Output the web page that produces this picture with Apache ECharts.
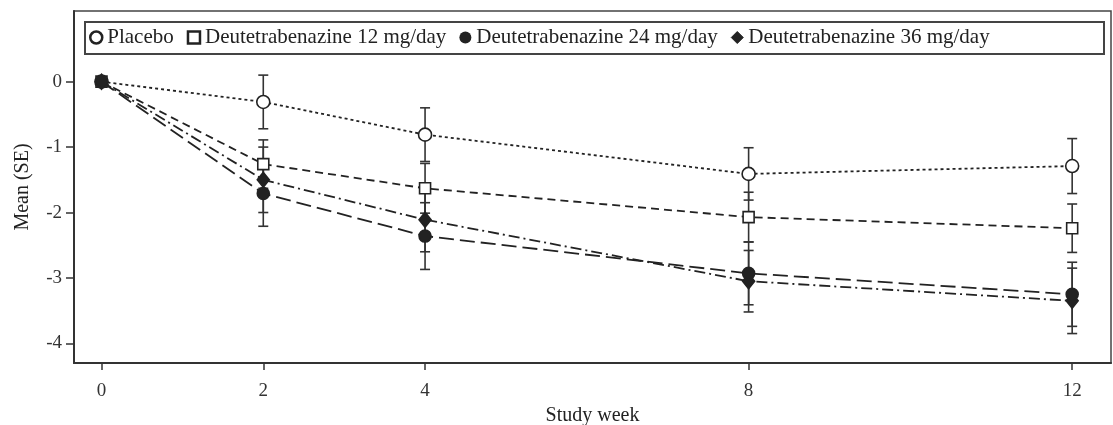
<!DOCTYPE html>
<html>
<head>
<meta charset="utf-8">
<script src="https://cdn.jsdelivr.net/npm/echarts@6/dist/echarts.min.js"></script>
<style>
html,body{margin:0;padding:0;background:#fff;}
#chart{width:1113px;height:425px;}
</style>
</head>
<body>
<div id="chart"></div>
<script>
// ---- data ----
const weeks = [0, 2, 4, 8, 12];
const xTicks = [0, 2, 4, 8, 12];
const yTicks = [0, -1, -2, -3, -4];
const seriesNames = ['Placebo', 'Deutetrabenazine 12 mg/day', 'Deutetrabenazine 24 mg/day', 'Deutetrabenazine 36 mg/day'];
const placeboMean = [0, -0.31, -0.81, -1.41, -1.29];
const placeboSE   = [0, 0.41, 0.41, 0.40, 0.42];
const dtbz12Mean  = [0, -1.26, -1.63, -2.07, -2.24];
const dtbz12SE    = [0, 0.37, 0.38, 0.38, 0.37];
const dtbz24Mean  = [0, -1.71, -2.36, -2.93, -3.25];
const dtbz24SE    = [0, 0.50, 0.51, 0.48, 0.49];
const dtbz36Mean  = [0, -1.50, -2.11, -3.05, -3.35];
const dtbz36SE    = [0, 0.50, 0.49, 0.47, 0.50];

const FONT = 'Liberation Serif';
const INK = '#222';

function pts(means){ return weeks.map((w,i)=>[w, means[i]]); }
function errData(means, ses){ return weeks.map((w,i)=>[w, means[i]-ses[i], means[i]+ses[i], ses[i]]); }

function errSeries(name, means, ses){
  return {
    type: 'custom',
    name: name + ' SE',
    silent: true,
    z: 1,
    data: errData(means, ses),
    encode: {x: 0, y: [1, 2]},
    renderItem: function(params, api){
      if (api.value(3) === 0) return null;
      const lo = api.coord([api.value(0), api.value(1)]);
      const hi = api.coord([api.value(0), api.value(2)]);
      const hw = 5;
      const st = {stroke: '#333', lineWidth: 1.6};
      return {
        type: 'group',
        children: [
          {type:'line', shape:{x1:lo[0], y1:lo[1], x2:hi[0], y2:hi[1]}, style: st},
          {type:'line', shape:{x1:lo[0]-hw, y1:lo[1], x2:lo[0]+hw, y2:lo[1]}, style: st},
          {type:'line', shape:{x1:hi[0]-hw, y1:hi[1], x2:hi[0]+hw, y2:hi[1]}, style: st}
        ]
      };
    }
  };
}

function lineSeries(name, means, symbol, size, fill, dash, z){
  return {
    type: 'line',
    name: name,
    data: pts(means),
    symbol: symbol,
    symbolSize: size,
    z: z,
    itemStyle: {color: fill, borderColor: INK, borderWidth: 1.6},
    lineStyle: {color: INK, width: 1.8, type: dash},
    emphasis: {disabled: true}
  };
}

const chart = echarts.init(document.getElementById('chart'));
chart.setOption({
  animation: false,
  backgroundColor: '#fff',
  grid: {left: 74, top: 11, right: 2, bottom: 62, show: true, borderColor: '#444', borderWidth: 1.5, containLabel: false, outerBoundsMode: 'none'},
  graphic: [{
    type: 'rect', left: 84, top: 21, z: 0,
    shape: {width: 1019, height: 32},
    style: {fill: '#fff', stroke: '#444', lineWidth: 2}
  }],
  legend: {
    left: 89, top: 27,
    itemWidth: 12, itemHeight: 12, itemGap: 13,
    padding: 0,
    textStyle: {fontFamily: FONT, fontSize: 21, color: INK},
    selectedMode: false,
    data: [
      {name: seriesNames[0], icon: 'circle', itemStyle: {color: '#fff', borderColor: INK, borderWidth: 2.5}},
      {name: seriesNames[1], icon: 'rect', itemStyle: {color: '#fff', borderColor: INK, borderWidth: 2.5}},
      {name: seriesNames[2], icon: 'circle', itemStyle: {color: INK, borderColor: INK, borderWidth: 0}},
      {name: seriesNames[3], icon: 'diamond', itemStyle: {color: INK, borderColor: INK, borderWidth: 1}}
    ]
  },
  xAxis: {
    type: 'value', min: -0.34, max: 12.48,
    name: 'Study week', nameLocation: 'middle', nameGap: 37,
    nameTextStyle: {fontFamily: FONT, fontSize: 20, color: INK},
    axisLine: {show: true, onZero: false, lineStyle: {color: '#333', width: 2}},
    axisTick: {show: true, length: 7, customValues: xTicks, lineStyle: {color: '#333', width: 1.5}},
    axisLabel: {customValues: xTicks, fontFamily: FONT, fontSize: 19, color: '#333', margin: 19},
    splitLine: {show: false}
  },
  yAxis: {
    type: 'value', min: -4.3, max: 1.08,
    name: 'Mean (SE)', nameLocation: 'middle', nameGap: 41, nameRotate: 90,
    nameTextStyle: {fontFamily: FONT, fontSize: 20, color: INK},
    axisLine: {show: true, onZero: false, lineStyle: {color: '#333', width: 2}},
    axisTick: {show: true, length: 8, customValues: yTicks, lineStyle: {color: '#333', width: 1.5}},
    axisLabel: {customValues: yTicks, fontFamily: FONT, fontSize: 19, color: '#333', margin: 12},
    splitLine: {show: false}
  },
  series: [
    errSeries(seriesNames[0], placeboMean, placeboSE),
    errSeries(seriesNames[1], dtbz12Mean, dtbz12SE),
    errSeries(seriesNames[2], dtbz24Mean, dtbz24SE),
    errSeries(seriesNames[3], dtbz36Mean, dtbz36SE),
    lineSeries(seriesNames[0], placeboMean, 'circle', 13, '#fff', [3, 3], 3),
    lineSeries(seriesNames[1], dtbz12Mean, 'rect', 11, '#fff', [8, 5], 4),
    lineSeries(seriesNames[3], dtbz36Mean, 'diamond', [12, 15], INK, [11, 4, 2, 4], 5),
    lineSeries(seriesNames[2], dtbz24Mean, 'circle', 12, INK, [15, 6], 6)
  ]
});
</script>
</body>
</html>
